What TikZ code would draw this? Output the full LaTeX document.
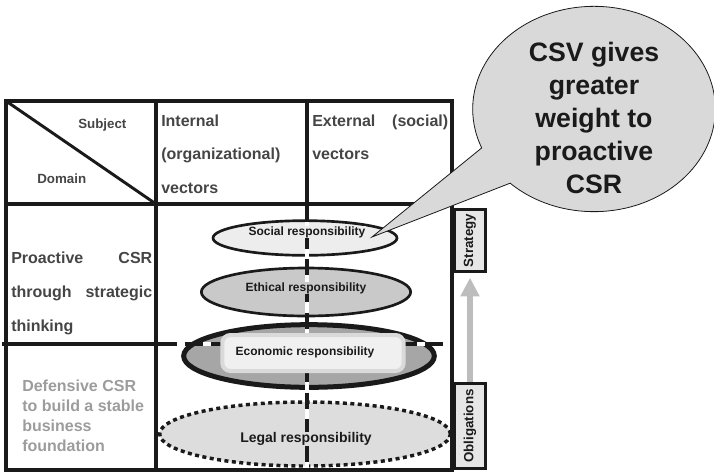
\documentclass[tikz,border=0pt]{standalone}
\usepackage{fontspec}
\setmainfont{Liberation Sans}
\usepackage{tikz}
\usetikzlibrary{positioning}
\usetikzlibrary{shapes.geometric}
\usetikzlibrary{shapes.callouts}
\usetikzlibrary{arrows.meta}
\definecolor{ink}{HTML}{1A1A1A}
\definecolor{txt}{HTML}{454545}
\definecolor{faint}{HTML}{9C9C9C}
\definecolor{socfill}{HTML}{EDEDED}
\definecolor{ethfill}{HTML}{C9C9C9}
\definecolor{ecofill}{HTML}{A6A6A6}
\definecolor{legfill}{HTML}{DDDDDD}
\definecolor{boxedge}{HTML}{DADADA}
\definecolor{boxfill}{HTML}{F0F0F0}
\definecolor{tagfill}{HTML}{E6E6E6}
\definecolor{bubble}{HTML}{D9D9D9}
\definecolor{arrowgray}{HTML}{BDBDBD}

\begin{document}
\begin{tikzpicture}[x=0.75pt, y=-0.75pt,
    grid/.style={draw=ink, line width=3pt},
    resp/.style={draw=ink, ellipse, line width=2pt, inner sep=0pt},
    lbl/.style={font=\bfseries\fontsize{9}{11}\selectfont, text=ink, inner sep=0.5pt},
    head/.style={font=\bfseries\fontsize{12}{14}\selectfont, text=txt, inner sep=0pt, anchor=base west},
    corner/.style={head, font=\bfseries\fontsize{10}{12}\selectfont},
    tag/.style={draw=ink, line width=2.25pt, fill=tagfill, rotate=90, minimum height=23.25pt, font=\bfseries\fontsize{10}{12}\selectfont, text=ink, inner sep=0pt},
    sep/.style={ink, line width=3pt}]
    \useasboundingbox (0,0) rectangle (714,472);

    % responsibility layers
    \node[resp, fill=socfill, minimum width=138pt, minimum height=26pt] (soc) at (305,238) {};
    \node[resp, fill=ethfill, minimum width=157pt, minimum height=36pt] (eth) at (306,292) {};
    \node[resp, fill=ecofill, line width=3.75pt, minimum width=188pt, minimum height=47pt] (eco) at (309,356) {};
    \node[resp, fill=legfill, line width=2.6pt, dash pattern=on 3pt off 2.6pt, minimum width=218pt, minimum height=48pt] (leg) at (305,434) {};

    % table
    \draw[grid] (6,101) rectangle (452,470);
    \draw[grid] (156,101) -- (156,470);
    \draw[grid] (307,101) -- (307,204);
    \draw[grid] (6,204) -- (452,204);
    \draw[grid] (2,344) -- (156,344);
    \draw[ink, line width=2.2pt] (6,101) -- (156,204);

    % dashed guides
    \draw[white, line width=3pt] (307,206) -- (307,468) (158,344) -- (450,344);
    \draw[sep, dash pattern=on 12pt off 8pt] (307,206) -- (307,468);
    \draw[sep, dash pattern=on 14pt off 6pt] (158,344) -- (450,344);

    \node[draw=boxedge, line width=3pt, fill=boxfill, rounded corners=6pt, minimum width=136pt, minimum height=27pt] (ecobox) at (313,353) {};

    \node[lbl, fill=socfill] (soct) at (307,232) {Social responsibility};
    \node[lbl, fill=ethfill] (etht) at (306,288) {Ethical responsibility};
    \node[lbl, fill=boxfill] (ecot) at (305,352) {Economic responsibility};
    \node[lbl, fill=legfill, font=\bfseries\fontsize{10.5}{12}\selectfont] (legt) at (306,439) {Legal responsibility};

    % headings
    \node[corner] (subj) at (78,128) {Subject};
    \node[corner] (dom) at (37,183) {Domain};
    \node[head] (int1) at (161,126) {Internal};
    \node[head] (int2) at (161,159) {(organizational)};
    \node[head] (int3) at (161,193) {vectors};
    \node[head] (ext1) at (312,126) {\makebox[102pt][s]{External\hfill(social)}};
    \node[head] (ext2) at (312,159) {vectors};
    \node[head] (pro1) at (11,263) {\makebox[105.75pt][s]{Proactive\hfill CSR}};
    \node[head] (pro2) at (11,297) {\makebox[105.75pt][s]{through\hfill strategic}};
    \node[head] (pro3) at (11,331) {thinking};
    \foreach \t [count=\i] in {Defensive CSR, to build a stable, business, foundation}
        \node[head, text=faint] (def\i) at (22,{371+20*\i}) {\t};

    % obligations -> strategy
    \node[tag, minimum width=46.5pt] (strat) at (470,240.5) {Strategy};
    \node[tag, minimum width=63.75pt] (oblig) at (470,426) {Obligations};
    \draw[arrowgray, line width=4.5pt, -{Triangle[width=13.5pt, length=14pt]}, shorten >=3.5pt] (oblig.east) -- (strat.west);

    % callout
    \coordinate (tip) at (372,237);
    \node[ellipse callout, draw=ink, line width=0.6pt, fill=bubble, minimum width=182pt, minimum height=154pt, callout absolute pointer={(tip)}, callout pointer arc=24] (csv) at (594,109) {};
    \node[align=center, font=\bfseries\fontsize{20}{24.75}\selectfont, text=ink, inner sep=0pt] (csvt) at (594,118) {CSV gives\\greater\\weight to\\proactive\\CSR};
\end{tikzpicture}
\end{document}
